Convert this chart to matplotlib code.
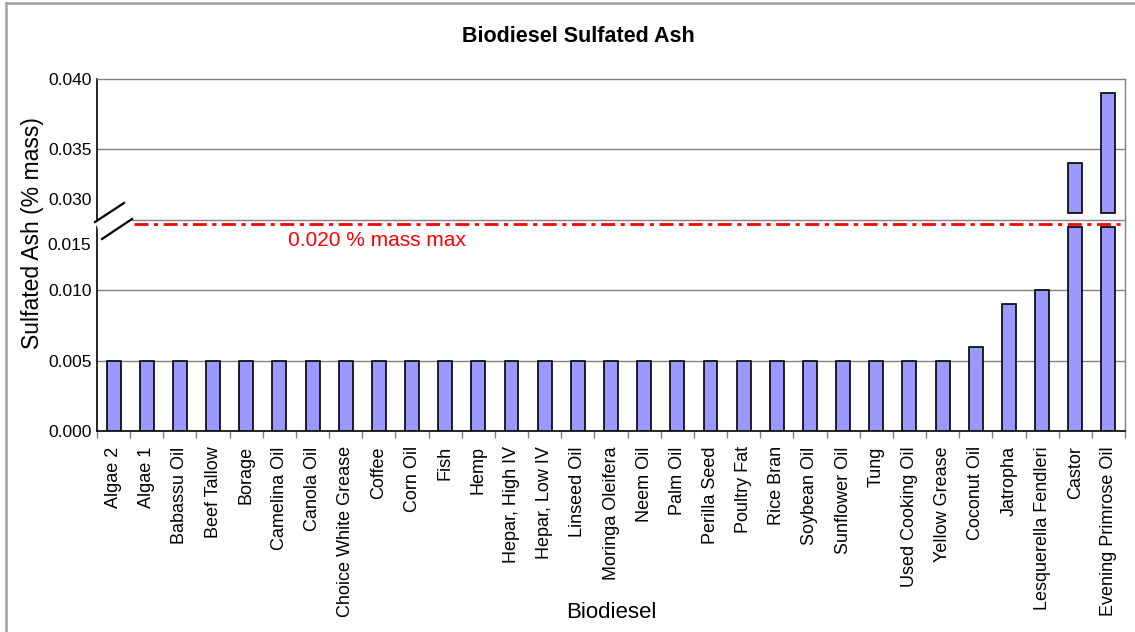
import numpy as np
import matplotlib
matplotlib.use("Agg")
import matplotlib.pyplot as plt
from matplotlib.patches import Polygon
from matplotlib.lines import Line2D

# ---- data ----
categories = ["Algae 2", "Algae 1", "Babassu Oil", "Beef Tallow", "Borage",
              "Camelina Oil", "Canola Oil", "Choice White Grease", "Coffee",
              "Corn Oil", "Fish", "Hemp", "Hepar, High IV", "Hepar, Low IV",
              "Linseed Oil", "Moringa Oleifera", "Neem Oil", "Palm Oil",
              "Perilla Seed", "Poultry Fat", "Rice Bran", "Soybean Oil",
              "Sunflower Oil", "Tung", "Used Cooking Oil", "Yellow Grease",
              "Coconut Oil", "Jatropha", "Lesquerella Fendleri", "Castor",
              "Evening Primrose Oil"]
ash = [0.005] * 26 + [0.006, 0.009, 0.010, 0.034, 0.039]
limit_value = 0.020
limit_label = "0.020 % mass max"
lower_ticks = [0.000, 0.005, 0.010]
upper_ticks = [0.035, 0.040]
break_labels = ["0.015", "0.030"]

# ---- broken scale ----
BREAK_LO = 0.0145   # lower segment ends
BREAK_MID = 0.030   # upper segment starts
BREAK_HI = 0.0305   # upper bar piece begins
xp = np.array([-1.0, 0.0, BREAK_LO, BREAK_MID, 1.0])
fp = np.array([-1.0, 0.0, BREAK_LO, 0.015, 0.015 + (1.0 - BREAK_MID)])

def fwd(v):
    return np.interp(v, xp, fp)

def inv(d):
    return np.interp(d, fp, xp)

plt.rcParams['font.family'] = ['Liberation Sans', 'DejaVu Sans']

W, H = 1135, 632
fig = plt.figure(figsize=(W / 100, H / 100), dpi=100)
L, R, T, B = 97, 1125, 79, 431
ax = fig.add_axes([L / W, 1 - B / H, (R - L) / W, (B - T) / H])
ax.set_yscale('function', functions=(fwd, inv))

def px2ax(x, y):
    return ((x - L) / (R - L), (B - y) / (B - T))

n = len(categories)
x = np.arange(n)
vals = np.array(ash)
barc = '#9999FF'
lower = np.minimum(vals, BREAK_LO)
ax.bar(x, lower, width=0.42, color=barc, edgecolor='black', linewidth=1.2, zorder=3)
hi = vals > BREAK_MID
ax.bar(x[hi], vals[hi] - BREAK_HI, bottom=BREAK_HI, width=0.42, color=barc,
       edgecolor='black', linewidth=1.2, zorder=3)

ax.set_xlim(-0.5, n - 0.5)
ax.set_ylim(0, 0.040)

# gridlines
grid_c = '#808080'
for v in [0.005, 0.010, 0.035]:
    ax.axhline(v, color=grid_c, lw=1.0, zorder=1)
x0, _ = px2ax(132, 0)
ax.axhline(BREAK_MID, xmin=x0, xmax=1, color=grid_c, lw=1.0, zorder=1)

# limit line
xs, _ = px2ax(134, 0)
ax.axhline(limit_value, xmin=xs, xmax=1, color='#FF0000', lw=2.0,
           linestyle=(0, (5, 2, 1.5, 2)), zorder=4)
tx, ty = px2ax(288, 240)
ax.text(tx, ty, limit_label, transform=ax.transAxes, color='#FF0000',
        fontsize=15, va='center', ha='left')

# spines
for s in ['top', 'right']:
    ax.spines[s].set_color(grid_c)
    ax.spines[s].set_linewidth(1.0)
for s in ['left', 'bottom']:
    ax.spines[s].set_color('black')
    ax.spines[s].set_linewidth(1.2)

# y ticks (break labels offset from the break line)
px_per_unit = (B - T) / fwd(0.040)
lab15 = inv((B - 244) / px_per_unit)
lab30 = inv((B - 199) / px_per_unit)
yt = lower_ticks + [lab15, lab30] + upper_ticks
yl = ['%.3f' % v for v in lower_ticks] + break_labels + ['%.3f' % v for v in upper_ticks]
ax.set_yticks(yt)
ax.set_yticklabels(yl)
ax.tick_params(axis='y', length=0, pad=4, labelsize=12.5)

# x ticks
ax.set_xticks(x)
ax.set_xticklabels(categories, rotation=90)
ax.set_xticks(np.arange(-0.5, n, 1.0), minor=True)
ax.tick_params(axis='x', which='major', length=0, pad=11, labelsize=13)
ax.tick_params(axis='x', which='minor', length=5, width=1.0, color='#808080')

# axis labels
ax.set_ylabel("Sulfated Ash (% mass)", fontsize=16.5)
ax.yaxis.set_label_coords((33 - L) / (R - L), (B - 233) / (B - T))
ax.yaxis.label.set_va('center')
ax.set_xlabel("Biodiesel", fontsize=16)
ax.xaxis.set_label_coords(0.5, (B - 612) / (B - T))
ax.xaxis.label.set_va('center')

# break marker
p1 = px2ax(95, 222); p2 = px2ax(124, 203); p3 = px2ax(132, 219); p4 = px2ax(102, 239)
ax.add_patch(Polygon([p1, p2, p3, p4], closed=True, transform=ax.transAxes,
                     facecolor='white', edgecolor='none', clip_on=False, zorder=5))
for a, b in [(p1, p2), (p4, p3)]:
    ax.add_line(Line2D([a[0], b[0]], [a[1], b[1]], transform=ax.transAxes,
                       color='black', lw=1.6, clip_on=False, zorder=6))

# title
fig.text(578 / W, 1 - 37 / H, "Biodiesel Sulfated Ash", ha='center', va='center',
         fontsize=15.5, fontweight='bold')

# figure border (left and top)
bc = '#A0A0A0'
fig.add_artist(Line2D([6 / W, 6 / W], [0, 1 - 3 / H], transform=fig.transFigure,
                      color=bc, lw=1.8))
fig.add_artist(Line2D([6 / W, 1], [1 - 3 / H, 1 - 3 / H], transform=fig.transFigure,
                      color=bc, lw=1.8))

fig.savefig("out.png", dpi=100)
